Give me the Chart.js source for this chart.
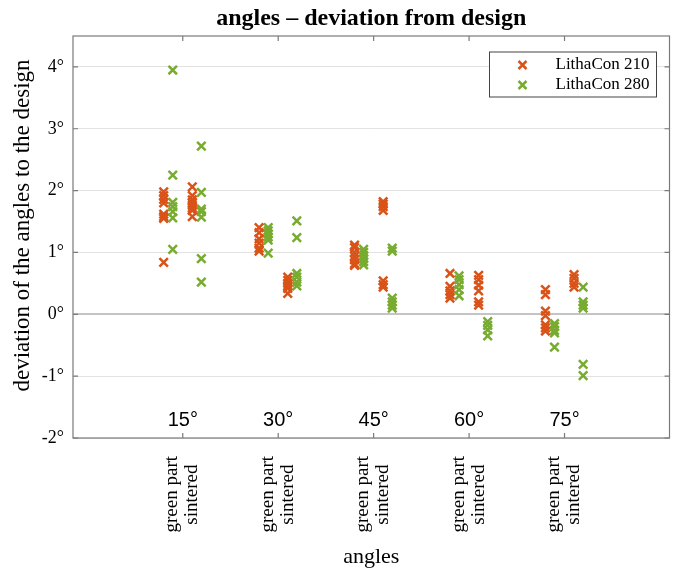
<!DOCTYPE html>
<html>
<head>
<meta charset="utf-8">
<script src="https://cdn.jsdelivr.net/npm/chart.js@4.4.1/dist/chart.umd.min.js"></script>
<style>
  html, body { margin: 0; padding: 0; background: #fff; }
</style>
</head>
<body>
<canvas id="chart" width="678" height="571"></canvas>
<script>
'use strict';

const angles = ['15°', '30°', '45°', '60°', '75°'];
const states = ['green part', 'sintered'];
const yTicks = [-2, -1, 0, 1, 2, 3, 4];

// deviation in degrees, one list per angle
const lc210Green = [
  [1.98, 1.92, 1.86, 1.80, 1.62, 1.58, 1.55, 0.84],
  [1.40, 1.32, 1.22, 1.15, 1.07, 1.02],
  [1.12, 1.08, 1.00, 0.94, 0.88, 0.82, 0.79],
  [0.66, 0.45, 0.38, 0.32, 0.26],
  [0.40, 0.32, 0.05, -0.02, -0.17, -0.22, -0.27]
];
const lc210Sintered = [
  [2.06, 1.92, 1.85, 1.80, 1.76, 1.72, 1.68, 1.58],
  [0.60, 0.55, 0.50, 0.46, 0.42, 0.34],
  [1.82, 1.78, 1.74, 1.68, 0.54, 0.48, 0.44],
  [0.63, 0.56, 0.47, 0.38, 0.20, 0.15],
  [0.64, 0.58, 0.50, 0.44]
];
const lc280Green = [
  [3.95, 2.25, 1.81, 1.74, 1.66, 1.56, 1.05],
  [1.40, 1.35, 1.30, 1.25, 1.20, 0.99],
  [1.05, 1.00, 0.95, 0.90, 0.85, 0.80],
  [0.62, 0.56, 0.48, 0.40, 0.30],
  [-0.15, -0.20, -0.26, -0.30, -0.53]
];
const lc280Sintered = [
  [2.72, 1.97, 1.70, 1.66, 1.57, 0.90, 0.52],
  [1.51, 1.24, 0.66, 0.60, 0.52, 0.46],
  [1.07, 1.02, 0.26, 0.20, 0.15, 0.10],
  [-0.12, -0.18, -0.25, -0.35],
  [0.44, 0.20, 0.15, 0.10, -0.81, -0.99]
];

const serif = "'Liberation Serif', 'Times New Roman', serif";
const sans = "'Liberation Sans', Arial, sans-serif";
const orange = '#D95319';
const green = '#77AC30';
const axisGray = '#7a7a7a';

// angle i sits at x = i + 1, green part left of it, sintered right of it
function points(greenLists, sinteredLists, shift) {
  const pts = [];
  angles.forEach((a, i) => {
    greenLists[i].forEach(v => pts.push({x: i + 1 - 0.15 + shift, y: v}));
    sinteredLists[i].forEach(v => pts.push({x: i + 1 + 0.15 + shift, y: v}));
  });
  return pts;
}

const frame = {
  id: 'frame',
  afterDraw(chart) {
    const {ctx, chartArea: a, scales: {x, y}} = chart;
    ctx.save();
    ctx.strokeStyle = axisGray;
    ctx.lineWidth = 1.2;
    ctx.strokeRect(a.left, a.top, a.right - a.left, a.bottom - a.top);
    ctx.beginPath();
    x.ticks.forEach(t => {
      const px = x.getPixelForValue(t.value);
      ctx.moveTo(px, a.top); ctx.lineTo(px, a.top + 5);
      ctx.moveTo(px, a.bottom); ctx.lineTo(px, a.bottom - 5);
    });
    y.ticks.forEach(t => {
      const py = y.getPixelForValue(t.value);
      ctx.moveTo(a.left, py); ctx.lineTo(a.left + 5, py);
      ctx.moveTo(a.right, py); ctx.lineTo(a.right - 5, py);
    });
    ctx.stroke();

    // angle names inside the plot
    ctx.fillStyle = '#000';
    ctx.font = '20px ' + sans;
    ctx.textAlign = 'center';
    ctx.textBaseline = 'alphabetic';
    angles.forEach((name, i) => {
      ctx.fillText(name, x.getPixelForValue(i + 1), a.bottom - 12);
    });

    // legend box, top right
    const bx = a.right - 180, by = a.top + 16, bw = 167, bh = 45;
    ctx.fillStyle = '#fff';
    ctx.fillRect(bx, by, bw, bh);
    ctx.strokeStyle = '#444';
    ctx.lineWidth = 1;
    ctx.strokeRect(bx, by, bw, bh);
    ctx.font = '17px ' + serif;
    ctx.textAlign = 'left';
    ctx.textBaseline = 'middle';
    chart.data.datasets.forEach((ds, i) => {
      const ry = by + 13 + i * 20;
      const mx = bx + 33, d = 4;
      ctx.strokeStyle = ds.borderColor;
      ctx.lineWidth = 2.5;
      ctx.beginPath();
      ctx.moveTo(mx - d, ry - d); ctx.lineTo(mx + d, ry + d);
      ctx.moveTo(mx - d, ry + d); ctx.lineTo(mx + d, ry - d);
      ctx.stroke();
      ctx.fillStyle = '#000';
      ctx.fillText(ds.label, bx + 66, ry);
    });
    ctx.restore();
  }
};

const data = {
  datasets: [
    {
      label: 'LithaCon 210',
      data: points(lc210Green, lc210Sintered, -0.05),
      pointStyle: 'crossRot',
      radius: 6,
      borderWidth: 2.5,
      borderColor: orange,
      backgroundColor: orange
    },
    {
      label: 'LithaCon 280',
      data: points(lc280Green, lc280Sintered, 0.045),
      pointStyle: 'crossRot',
      radius: 6,
      borderWidth: 2.5,
      borderColor: green,
      backgroundColor: green
    }
  ]
};

const config = {
  type: 'scatter',
  data: data,
  options: {
    responsive: false,
    animation: false,
    layout: {padding: {left: 0, right: 6, top: 0, bottom: 0}},
    plugins: {
      legend: {display: false},
      tooltip: {enabled: false},
      title: {
        display: true,
        text: 'angles – deviation from design',
        fullSize: false,
        color: '#000',
        font: {family: serif, size: 24, weight: 'bold'},
        padding: {top: 4, bottom: 3.2}
      }
    },
    scales: {
      x: {
        type: 'linear',
        min: -0.15,
        max: 6.1,
        afterBuildTicks: s => { s.ticks = angles.map((a, i) => ({value: i + 1})); },
        afterFit: s => { s.height = 133; },
        ticks: {
          callback: () => [states[0], states[1] + ' \u2009'],
          minRotation: 90,
          maxRotation: 90,
          autoSkip: false,
          labelOffset: -10.5,
          color: '#000',
          font: {family: serif, size: 19, lineHeight: 1.05},
          padding: 18
        },
        grid: {display: false, drawTicks: false},
        border: {display: false},
        title: {
          display: true,
          text: 'angles',
          color: '#000',
          font: {family: serif, size: 22},
          padding: {top: 0, bottom: 1}
        }
      },
      y: {
        min: -2,
        max: 4.5,
        afterBuildTicks: s => { s.ticks = yTicks.map(v => ({value: v})); },
        afterFit: s => { s.width = 73; },
        ticks: {
          callback: v => v + '°',
          color: '#000',
          font: {family: serif, size: 18},
          padding: 9
        },
        grid: {
          drawTicks: false,
          color: c => (c.tick && c.tick.value === 0) ? '#c4c4c4' : '#e2e2e2',
          lineWidth: c => (c.tick && c.tick.value === 0) ? 2 : 1
        },
        border: {display: false},
        title: {
          display: true,
          text: '    deviation of the angles to the design',
          color: '#000',
          font: {family: serif, size: 23},
          padding: {top: 9, bottom: 0}
        }
      }
    }
  },
  plugins: [frame]
};

new Chart(document.getElementById('chart'), config);
</script>
</body>
</html>
